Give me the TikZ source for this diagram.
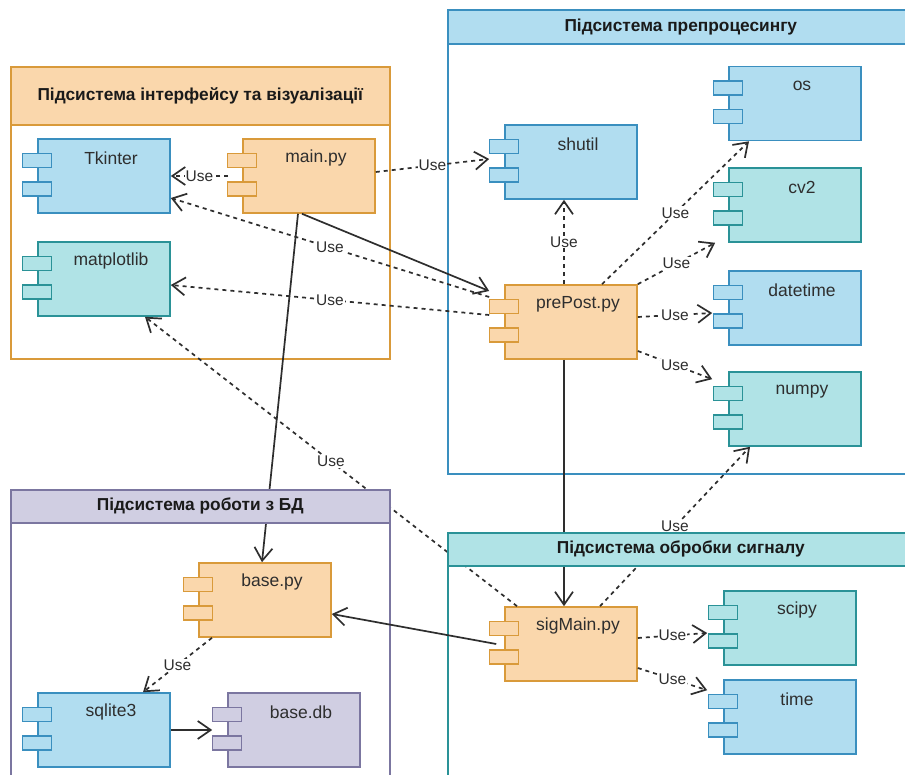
\documentclass[tikz,border=0pt]{standalone}
\usepackage{fontspec}
\setmainfont{Liberation Sans}
\usetikzlibrary{arrows.meta}

\definecolor{orFill}{HTML}{FAD7AC}
\definecolor{orLine}{HTML}{D99A3A}
\definecolor{blFill}{HTML}{B1DDF0}
\definecolor{blLine}{HTML}{3A8FBF}
\definecolor{tlFill}{HTML}{B0E3E6}
\definecolor{tlLine}{HTML}{2A9297}
\definecolor{ppFill}{HTML}{D0CEE2}
\definecolor{ppLine}{HTML}{7B76A0}
\definecolor{ink}{HTML}{2E2E2E}
\definecolor{headInk}{HTML}{1A1A1A}

\newcommand{\compfont}{\fontsize{17.5}{20}\selectfont}
\newcommand{\lblfont}{\fontsize{15.5}{17}\selectfont}

\tikzset{
  comp/.style={draw, line width=1.6pt, minimum width=132pt, minimum height=74pt, inner sep=0pt},
  tabbox/.style={draw, line width=1.5pt, minimum width=29pt, minimum height=14pt, inner sep=0pt},
  pkgbody/.style={draw, fill=white, line width=1.6pt, inner sep=0pt, anchor=north west},
  pkghead/.style={draw, line width=1.6pt, inner sep=0pt, anchor=north west,
    font=\fontsize{17.3}{20}\selectfont\bfseries, text=headInk},
  usedep/.style={draw=ink, line width=1.7pt, dash pattern=on 4pt off 4pt,
    -{Straight Barb[length=13pt,width=18pt]}},
  calldep/.style={draw=ink, line width=1.7pt, -{Straight Barb[length=13pt,width=18pt]}},
  uselbl/.style={fill=white, inner sep=1pt, text=ink, font=\lblfont}
}

% UML component: body with name near the top, two small tabs on the left edge
\newcommand{\umlcomp}[5]{%
  \node[comp, fill=#4, draw=#5,
    label={[name=#1-lbl, anchor=center, xshift=7pt, yshift=-20pt, font=\compfont, text=ink]north:#3}]
    (#1) at (#2) {};
  \node[tabbox, fill=#4, draw=#5] (#1-a) at ([yshift=-22.5pt]#1.north west) {};
  \node[tabbox, fill=#4, draw=#5] (#1-b) at ([yshift=-51pt]#1.north west) {};
}

\begin{document}
\begin{tikzpicture}[x=1pt, y=-1pt]
\useasboundingbox (0,0) rectangle (905,775);

% package frames
\node[pkgbody, draw=orLine, minimum width=379pt, minimum height=292pt] (ifpkg) at (10,66) {};
\node[pkgbody, draw=blLine, minimum width=466pt, minimum height=464pt] (prepkg) at (447,9) {};
\node[pkgbody, draw=ppLine, minimum width=379pt, minimum height=300pt] (dbpkg) at (10,489) {};
\node[pkgbody, draw=tlLine, minimum width=466pt, minimum height=260pt] (sigpkg) at (447,532) {};

% components
\umlcomp{tk}{104,176}{Tkinter}{blFill}{blLine}
\umlcomp{main}{309,176}{main.py}{orFill}{orLine}
\umlcomp{mpl}{104,279}{matplotlib}{tlFill}{tlLine}
\umlcomp{shutil}{571,162}{shutil}{blFill}{blLine}
\umlcomp{os}{795,103.5}{os}{blFill}{blLine}
\umlcomp{cv}{795,205}{cv2}{tlFill}{tlLine}
\umlcomp{pp}{571,322}{prePost.py}{orFill}{orLine}
\umlcomp{dt}{795,308}{datetime}{blFill}{blLine}
\umlcomp{np}{795,409}{numpy}{tlFill}{tlLine}
\umlcomp{sig}{571,644}{sigMain.py}{orFill}{orLine}
\umlcomp{sp}{790,628}{scipy}{tlFill}{tlLine}
\umlcomp{tm}{790,717}{time}{blFill}{blLine}
\umlcomp{base}{265,600}{base.py}{orFill}{orLine}
\umlcomp{sq}{104,730}{sqlite3}{blFill}{blLine}
\umlcomp{db}{294,730}{base.db}{ppFill}{ppLine}

% "Use" dependencies
\draw[usedep] ([xshift=-14pt]main.west) -- node[uselbl]{Use} (tk.east);
\draw[usedep] ([yshift=4pt]main.east) -- node[uselbl]{Use} ([xshift=-15pt,yshift=3pt]shutil.west);
\draw[usedep] ([xshift=-15pt,yshift=25pt]pp.west) -- node[uselbl]{Use} ([yshift=-22pt]tk.east);
\draw[usedep] ([xshift=-15pt,yshift=7pt]pp.west) -- node[uselbl]{Use} ([yshift=-6pt]mpl.east);
\draw[usedep] ([xshift=-7pt]pp.north) -- node[uselbl]{Use} ([xshift=-7pt]shutil.south);
\draw[usedep] ([xshift=31pt]pp.north) -- node[uselbl]{Use} ([xshift=-46pt]os.south);
\draw[usedep] (pp.north east) -- node[uselbl]{Use} ([xshift=-13pt]cv.south west);
\draw[usedep] ([yshift=5pt]pp.east) -- node[uselbl]{Use} ([xshift=-16pt,yshift=-5pt]dt.west);
\draw[usedep] ([yshift=-29pt]pp.east) -- node[uselbl]{Use} ([xshift=-16pt,yshift=-8pt]np.north west);
\draw[usedep] ([xshift=29pt]sig.north) -- node[uselbl]{Use} ([xshift=-45pt]np.south);
\draw[usedep] ([xshift=-54pt]sig.north) -- node[uselbl]{Use} ([xshift=41pt]mpl.south);
\draw[usedep] ([yshift=6pt]sig.east) -- node[uselbl]{Use} ([xshift=-16pt,yshift=-5pt]sp.west);
\draw[usedep] ([yshift=-24pt]sig.east) -- node[uselbl]{Use} ([xshift=-16pt,yshift=-11pt]tm.north west);
\draw[usedep] ([xshift=-53pt]base.south) -- node[uselbl]{Use} ([xshift=39pt]sq.north);

% call dependencies
\draw[calldep] ([xshift=-7pt]main.south) -- ([xshift=-15pt,yshift=31pt]pp.west);
\draw[calldep] ([xshift=-11pt]main.south) -- ([xshift=-3pt]base.north);
\draw[calldep] ([xshift=-7pt]pp.south) -- ([xshift=-7pt]sig.north);
\draw[calldep] ([xshift=-8pt]sig.west) -- ([yshift=-14pt]base.east);
\draw[calldep] (sq.east) -- ([xshift=-15pt]db.west);

% package headers
\node[pkghead, fill=orFill, draw=orLine, minimum width=379pt, minimum height=58pt] (ifhead) at (10,66) {Підсистема інтерфейсу та візуалізації};
\node[pkghead, fill=blFill, draw=blLine, minimum width=466pt, minimum height=34pt] (prehead) at (447,9) {Підсистема препроцесингу};
\node[pkghead, fill=ppFill, draw=ppLine, minimum width=379pt, minimum height=33pt] (dbhead) at (10,489) {Підсистема роботи з БД};
\node[pkghead, fill=tlFill, draw=tlLine, minimum width=466pt, minimum height=33pt] (sighead) at (447,532) {Підсистема обробки сигналу};
\end{tikzpicture}
\end{document}
